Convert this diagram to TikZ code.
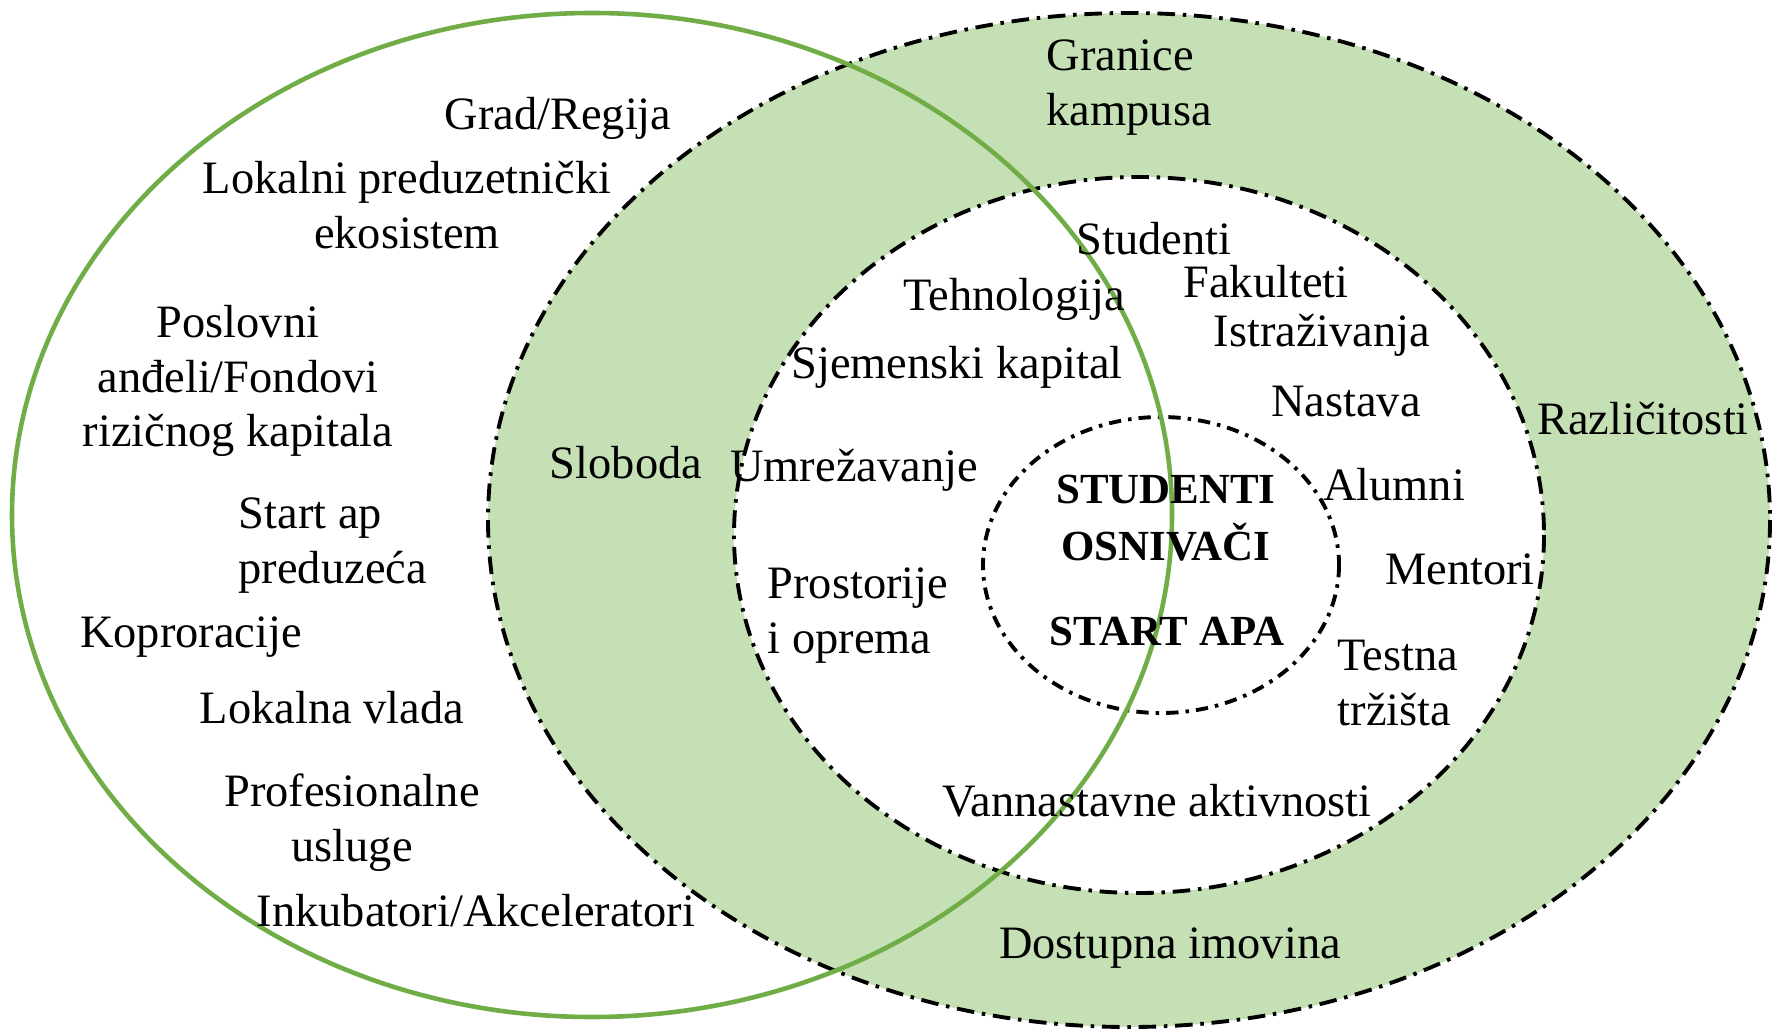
\documentclass[tikz,border=0pt]{standalone}
\usepackage{fontspec}
\setmainfont{Liberation Serif}
\usepackage{tikz}
\usetikzlibrary{positioning}
\usepackage{xcolor}
\definecolor{ringgreen}{RGB}{197,224,180}
\definecolor{venngreen}{RGB}{112,173,71}
\tikzset{
    lbl/.style={font=\fontsize{13.2}{15.6}\selectfont, inner sep=0pt, align=center},
    lblL/.style={lbl, align=left, anchor=west},
    core/.style={lbl, font=\fontsize{12.2}{16}\selectfont\bfseries},
    ring/.style={black, line width=1.1pt, dash pattern=on 5pt off 2.2pt on 1pt off 2.2pt},
    ringS/.style={ring, dash pattern=on 3.5pt off 2pt on 1pt off 2pt},
    region/.style={draw=venngreen, line width=1.3pt},
}

\begin{document}
\begin{tikzpicture}[x=0.01cm, y=-0.01cm]
    \useasboundingbox (0,0) rectangle (1777,1031);

    % campus rings
    \fill[ringgreen] (1129,520) ellipse [x radius=641, y radius=507];
    \fill[white] (1139,535) ellipse [x radius=405, y radius=358];
    \draw[ring] (1129,520) ellipse [x radius=641, y radius=507];
    \draw[ring] (1139,535) ellipse [x radius=405, y radius=358];
    \draw[ringS] (1161,565) ellipse [x radius=178, y radius=148];

    % local ecosystem
    \draw[region] (592,515) ellipse [x radius=580, y radius=502];

    % outside the campus
    \node[lbl] (grad) at (558,118) {Grad/Regija};
    \node[lbl] (lokalni) at (407,205) {Lokalni preduzetnički\\ekosistem};
    \node[lbl] (poslovni) at (238,381) {Poslovni\\anđeli/Fondovi\\rizičnog kapitala};
    \node[lblL] (startap) at (238,546) {Start ap\\preduzeća};
    \node[lbl] (korp) at (191,637) {Koproracije};
    \node[lbl] (vlada) at (332,708) {Lokalna vlada};
    \node[lbl] (usluge) at (352,823) {Profesionalne\\usluge};
    \node[lbl] (inkub) at (476,911) {Inkubatori/Akceleratori};

    % campus ring
    \node[lbl] (sloboda) at (626,463) {Sloboda};
    \node[lblL] (granice) at (1046,88) {Granice\\kampusa};
    \node[lbl] (razl) at (1643,419) {Različitosti};
    \node[lbl] (imovina) at (1170,948) {Dostupna imovina};

    % inside the campus
    \node[lbl] (studenti) at (1154,239) {Studenti};
    \node[lbl] (fakulteti) at (1266,282) {Fakulteti};
    \node[lbl] (tehno) at (1014,299) {Tehnologija};
    \node[lbl] (istraz) at (1322,335) {Istraživanja};
    \node[lbl] (sjeme) at (957,367) {Sjemenski kapital};
    \node[lbl] (nastava) at (1346,402) {Nastava};
    \node[lbl] (umrez) at (854,470) {Umrežavanje};
    \node[lbl] (alumni) at (1394,485) {Alumni};
    \node[lbl] (mentori) at (1460,569) {Mentori};
    \node[lblL] (prostor) at (767,616) {Prostorije\\i oprema};
    \node[lblL] (testna) at (1337,683) {Testna\\tržišta};
    \node[lbl] (vannast) at (1157,801) {Vannastavne aktivnosti};

    % core
    \node[core] (osnivaci) at (1166,518) {STUDENTI\\OSNIVAČI};
    \node[core] (startapa) at (1167,632) {START APA};
\end{tikzpicture}
\end{document}
